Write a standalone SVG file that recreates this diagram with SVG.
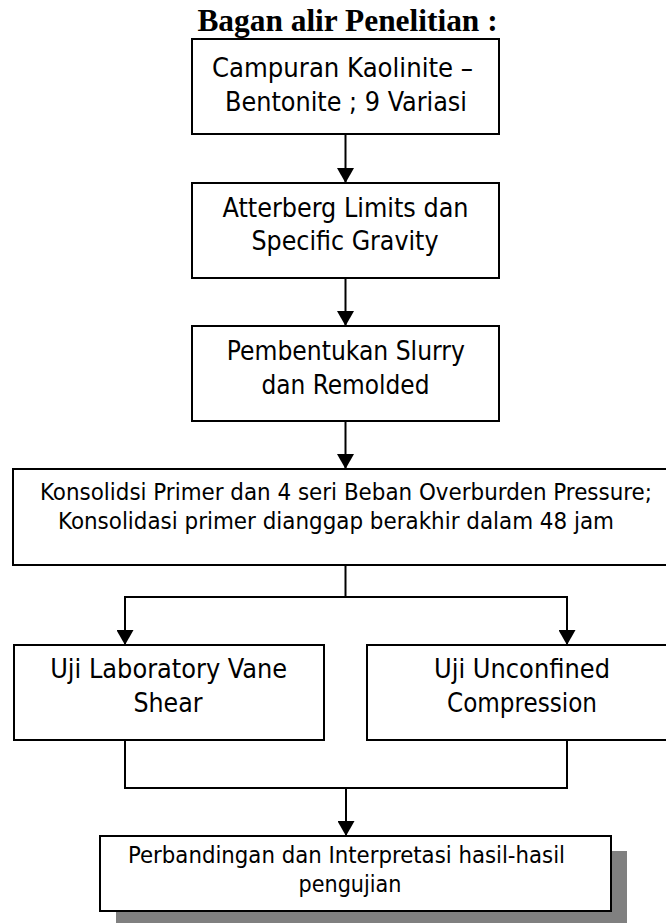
<svg xmlns="http://www.w3.org/2000/svg" width="666" height="923" viewBox="0 0 666 923">
  <style>
    .box { fill: #ffffff; stroke: #000000; stroke-width: 2; }
    .shadow { fill: #808080; stroke: none; }
    .t { font-family: "DejaVu Sans Condensed", "DejaVu Sans", sans-serif; font-stretch: condensed; font-size: 26.4px; fill: #000000; text-anchor: middle; }
    .t4 { font-size: 23.7px; }
    .t7 { font-size: 23.1px; }
    .title { font-family: "Liberation Serif", "Times New Roman", serif; font-weight: bold; font-size: 31.4px; fill: #000000; text-anchor: middle; }
    .ln { fill: none; stroke: #000000; stroke-width: 2; }
    .arr { marker-end: url(#ah); }
  </style>
  <defs>
    <marker id="ah" markerUnits="userSpaceOnUse" viewBox="0 0 15 17" refX="15" refY="8.5" markerWidth="15" markerHeight="17" orient="auto">
      <path d="M0,0 L15,8.5 L0,17 z" fill="#000000"/>
    </marker>
  </defs>
  <rect width="666" height="923" fill="#ffffff"/>

  <g id="title">
    <text class="title" x="347.5" y="31">Bagan alir Penelitian :</text>
  </g>

  <g id="connectors">
    <path class="ln arr" d="M345.5,134 V183"/>
    <path class="ln arr" d="M345.5,278 V326"/>
    <path class="ln arr" d="M345.5,421 V469"/>
    <path class="ln" d="M345.5,565 V597"/>
    <path class="ln" d="M124,597 H568"/>
    <path class="ln arr" d="M125,596 V645"/>
    <path class="ln arr" d="M567,596 V645"/>
    <path class="ln" d="M125,740 V788 H567 V740"/>
    <path class="ln arr" d="M346,788 V836"/>
  </g>

  <g id="node1">
    <rect class="box" x="192" y="39" width="307" height="95"/>
    <text class="t" x="342.5" y="77" textLength="261" lengthAdjust="spacingAndGlyphs">Campuran Kaolinite –</text>
    <text class="t" x="346" y="111" textLength="242" lengthAdjust="spacingAndGlyphs">Bentonite ; 9 Variasi</text>
  </g>

  <g id="node2">
    <rect class="box" x="192" y="183" width="307" height="95"/>
    <text class="t" x="345.5" y="217" textLength="246" lengthAdjust="spacingAndGlyphs">Atterberg Limits dan</text>
    <text class="t" x="345" y="250" textLength="187" lengthAdjust="spacingAndGlyphs">Specific Gravity</text>
  </g>

  <g id="node3">
    <rect class="box" x="192" y="326" width="307" height="95"/>
    <text class="t" x="345.8" y="360" textLength="238" lengthAdjust="spacingAndGlyphs">Pembentukan Slurry</text>
    <text class="t" x="345.5" y="394" textLength="168" lengthAdjust="spacingAndGlyphs">dan Remolded</text>
  </g>

  <g id="node4">
    <rect class="box" x="13" y="469" width="670" height="96"/>
    <text class="t t4" x="346" y="500" textLength="612" lengthAdjust="spacingAndGlyphs">Konsolidsi Primer dan 4 seri Beban Overburden Pressure;</text>
    <text class="t t4" x="336" y="529" textLength="556" lengthAdjust="spacingAndGlyphs">Konsolidasi primer dianggap berakhir dalam 48 jam</text>
  </g>

  <g id="node5">
    <rect class="box" x="14" y="645" width="310" height="95"/>
    <text class="t" x="168.7" y="678" textLength="237" lengthAdjust="spacingAndGlyphs">Uji Laboratory Vane</text>
    <text class="t" x="168" y="712">Shear</text>
  </g>

  <g id="node6">
    <rect class="box" x="367" y="645" width="312" height="95"/>
    <text class="t" x="522" y="678" textLength="176" lengthAdjust="spacingAndGlyphs">Uji Unconfined</text>
    <text class="t" x="522" y="712" textLength="150" lengthAdjust="spacingAndGlyphs">Compression</text>
  </g>

  <g id="node7">
    <rect class="shadow" x="116" y="851" width="511" height="75"/>
    <rect class="box" x="100" y="836" width="511" height="75"/>
    <text class="t t7" x="346.5" y="863" textLength="437" lengthAdjust="spacingAndGlyphs">Perbandingan dan Interpretasi hasil-hasil</text>
    <text class="t t7" x="350" y="892">pengujian</text>
  </g>
</svg>
